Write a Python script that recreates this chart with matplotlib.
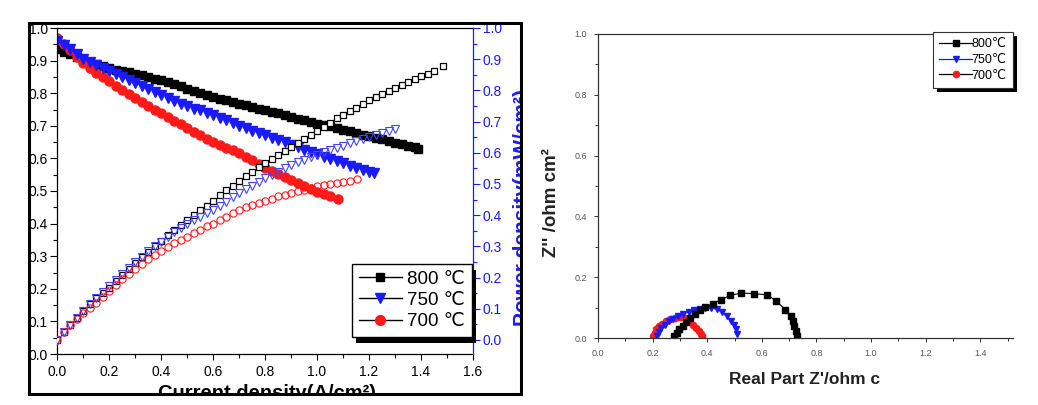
import matplotlib
matplotlib.use("Agg")
import matplotlib.pyplot as plt
from matplotlib.lines import Line2D
from matplotlib.patches import Rectangle
from matplotlib.ticker import MultipleLocator
from matplotlib.transforms import Bbox, TransformedBbox, IdentityTransform

plt.rcParams['font.family'] = ['Liberation Sans', 'DejaVu Sans']

W, H = 1038, 405

# ---- left panel: I-V / I-P curves ----
labels_T = ['800 ℃', '750 ℃', '700 ℃']

j_800_v = [0.000, 0.025, 0.050, 0.075, 0.100, 0.125, 0.150, 0.175, 0.200, 0.225, 0.250, 0.275, 0.300, 0.325,
           0.350, 0.375, 0.400, 0.425, 0.450, 0.475, 0.500, 0.525, 0.550, 0.575, 0.600, 0.625, 0.650, 0.675,
           0.700, 0.725, 0.750, 0.775, 0.800, 0.825, 0.850, 0.875, 0.900, 0.925, 0.950, 0.975, 1.000, 1.025,
           1.050, 1.075, 1.100, 1.125, 1.150, 1.175, 1.200, 1.225, 1.250, 1.275, 1.300, 1.325, 1.350, 1.375, 1.390]
v_800 = [0.935, 0.927, 0.919, 0.910, 0.902, 0.896, 0.890, 0.883, 0.877, 0.872, 0.867, 0.864, 0.860, 0.855,
         0.850, 0.845, 0.840, 0.834, 0.828, 0.821, 0.814, 0.807, 0.800, 0.794, 0.788, 0.783, 0.778, 0.773,
         0.768, 0.763, 0.758, 0.753, 0.748, 0.743, 0.738, 0.732, 0.727, 0.722, 0.717, 0.712, 0.707, 0.702,
         0.698, 0.693, 0.688, 0.683, 0.678, 0.673, 0.668, 0.663, 0.658, 0.653, 0.648, 0.643, 0.639, 0.634, 0.630]

j_750_v = [0.000, 0.025, 0.050, 0.075, 0.100, 0.125, 0.150, 0.175, 0.200, 0.225, 0.250, 0.275, 0.300, 0.325,
           0.350, 0.375, 0.400, 0.425, 0.450, 0.475, 0.500, 0.525, 0.550, 0.575, 0.600, 0.625, 0.650, 0.675,
           0.700, 0.725, 0.750, 0.775, 0.800, 0.825, 0.850, 0.875, 0.900, 0.925, 0.950, 0.975, 1.000, 1.025,
           1.050, 1.075, 1.100, 1.125, 1.150, 1.175, 1.200, 1.220]
v_750 = [0.960, 0.948, 0.935, 0.921, 0.906, 0.896, 0.886, 0.877, 0.868, 0.859, 0.850, 0.840, 0.830, 0.821,
         0.812, 0.803, 0.793, 0.784, 0.776, 0.768, 0.760, 0.753, 0.747, 0.740, 0.733, 0.725, 0.717, 0.709,
         0.700, 0.692, 0.685, 0.678, 0.671, 0.664, 0.657, 0.649, 0.641, 0.634, 0.626, 0.619, 0.612, 0.605,
         0.598, 0.592, 0.585, 0.578, 0.572, 0.565, 0.559, 0.554]

j_700_v = [0.000, 0.025, 0.050, 0.075, 0.100, 0.125, 0.150, 0.175, 0.200, 0.225, 0.250, 0.275, 0.300, 0.325,
           0.350, 0.375, 0.400, 0.425, 0.450, 0.475, 0.500, 0.525, 0.550, 0.575, 0.600, 0.625, 0.650, 0.675,
           0.700, 0.725, 0.750, 0.775, 0.800, 0.825, 0.850, 0.875, 0.900, 0.925, 0.950, 0.975, 1.000, 1.025,
           1.050, 1.080]
v_700 = [0.968, 0.952, 0.933, 0.912, 0.893, 0.878, 0.863, 0.850, 0.836, 0.823, 0.810, 0.797, 0.785, 0.773,
         0.761, 0.750, 0.738, 0.727, 0.715, 0.704, 0.692, 0.682, 0.672, 0.661, 0.651, 0.642, 0.633, 0.625,
         0.616, 0.605, 0.594, 0.582, 0.570, 0.561, 0.552, 0.543, 0.534, 0.525, 0.516, 0.507, 0.498, 0.492,
         0.486, 0.474]

j_800_p = [0.000, 0.025, 0.050, 0.075, 0.100, 0.125, 0.150, 0.175, 0.200, 0.225, 0.250, 0.275, 0.300, 0.325,
           0.350, 0.375, 0.400, 0.425, 0.450, 0.475, 0.500, 0.525, 0.550, 0.575, 0.600, 0.625, 0.650, 0.675,
           0.700, 0.725, 0.750, 0.775, 0.800, 0.825, 0.850, 0.875, 0.900, 0.925, 0.950, 0.975, 1.000, 1.025,
           1.050, 1.075, 1.100, 1.125, 1.150, 1.175, 1.200, 1.225, 1.250, 1.275, 1.300, 1.325, 1.350, 1.375,
           1.400, 1.425, 1.450, 1.485]
p_800 = [0.000, 0.024, 0.048, 0.071, 0.093, 0.114, 0.134, 0.151, 0.168, 0.188, 0.207, 0.227, 0.246, 0.265,
         0.283, 0.301, 0.318, 0.336, 0.354, 0.370, 0.385, 0.400, 0.415, 0.431, 0.447, 0.464, 0.480, 0.495,
         0.510, 0.525, 0.540, 0.553, 0.566, 0.579, 0.592, 0.605, 0.618, 0.632, 0.645, 0.658, 0.671, 0.684,
         0.697, 0.710, 0.722, 0.734, 0.745, 0.757, 0.768, 0.779, 0.789, 0.799, 0.808, 0.818, 0.827, 0.836,
         0.845, 0.854, 0.863, 0.879]

j_750_p = [0.000, 0.025, 0.050, 0.075, 0.100, 0.125, 0.150, 0.175, 0.200, 0.225, 0.250, 0.275, 0.300, 0.325,
           0.350, 0.375, 0.400, 0.425, 0.450, 0.475, 0.500, 0.525, 0.550, 0.575, 0.600, 0.625, 0.650, 0.675,
           0.700, 0.725, 0.750, 0.775, 0.800, 0.825, 0.850, 0.875, 0.900, 0.925, 0.950, 0.975, 1.000, 1.025,
           1.050, 1.075, 1.100, 1.125, 1.150, 1.175, 1.200, 1.225, 1.250, 1.275, 1.300]
p_750 = [0.000, 0.024, 0.048, 0.071, 0.093, 0.114, 0.134, 0.153, 0.172, 0.192, 0.212, 0.231, 0.250, 0.267,
         0.284, 0.300, 0.315, 0.330, 0.345, 0.359, 0.372, 0.384, 0.395, 0.407, 0.418, 0.431, 0.443, 0.457,
         0.470, 0.483, 0.495, 0.507, 0.518, 0.529, 0.540, 0.551, 0.561, 0.570, 0.578, 0.586, 0.594, 0.601,
         0.608, 0.616, 0.623, 0.630, 0.637, 0.644, 0.650, 0.657, 0.664, 0.671, 0.677]

j_700_p = [0.000, 0.025, 0.050, 0.075, 0.100, 0.125, 0.150, 0.175, 0.200, 0.225, 0.250, 0.275, 0.300, 0.325,
           0.350, 0.375, 0.400, 0.425, 0.450, 0.475, 0.500, 0.525, 0.550, 0.575, 0.600, 0.625, 0.650, 0.675,
           0.700, 0.725, 0.750, 0.775, 0.800, 0.825, 0.850, 0.875, 0.900, 0.925, 0.950, 0.975, 1.000, 1.025,
           1.050, 1.075, 1.100, 1.125, 1.155]
p_700 = [0.000, 0.024, 0.047, 0.066, 0.085, 0.103, 0.120, 0.139, 0.158, 0.176, 0.194, 0.211, 0.228, 0.244,
         0.260, 0.272, 0.284, 0.297, 0.310, 0.321, 0.331, 0.343, 0.354, 0.364, 0.373, 0.384, 0.394, 0.406,
         0.417, 0.425, 0.433, 0.440, 0.446, 0.453, 0.460, 0.466, 0.471, 0.477, 0.482, 0.488, 0.494, 0.497,
         0.500, 0.504, 0.507, 0.511, 0.516]

# ---- right panel: impedance spectra ----
labels_T2 = ['800℃', '750℃', '700℃']
zr_800 = [0.278, 0.288, 0.298, 0.310, 0.323, 0.338, 0.355, 0.372, 0.392, 0.420, 0.451, 0.484, 0.524, 0.570,
          0.619, 0.652, 0.686, 0.707, 0.714, 0.719, 0.724, 0.729]
zi_800 = [0.005, 0.017, 0.028, 0.040, 0.053, 0.066, 0.079, 0.091, 0.102, 0.113, 0.126, 0.140, 0.148, 0.146,
          0.142, 0.123, 0.093, 0.073, 0.055, 0.038, 0.022, 0.008]
zr_750 = [0.215, 0.222, 0.232, 0.245, 0.260, 0.276, 0.293, 0.312, 0.332, 0.352, 0.372, 0.393, 0.414, 0.436,
          0.455, 0.472, 0.486, 0.497, 0.505, 0.510]
zi_750 = [0.008, 0.020, 0.032, 0.044, 0.055, 0.064, 0.072, 0.079, 0.086, 0.092, 0.097, 0.100, 0.099, 0.094,
          0.084, 0.071, 0.057, 0.043, 0.028, 0.013]
zr_700 = [0.203, 0.207, 0.214, 0.223, 0.235, 0.249, 0.265, 0.282, 0.300, 0.318, 0.334, 0.348, 0.360, 0.370,
          0.377, 0.382]
zi_700 = [0.006, 0.017, 0.028, 0.038, 0.047, 0.055, 0.062, 0.067, 0.069, 0.066, 0.056, 0.044, 0.032, 0.022,
          0.014, 0.007]

BLUE = '#1a1aff'
RED = '#ff1a1a'


def fx(px):
    return px / W


def fy(py):
    return 1 - py / H


fig = plt.figure(figsize=(W / 100, H / 100), dpi=100)
frame_clip = TransformedBbox(Bbox.from_extents(fx(30), fy(393), fx(520), fy(24)), fig.transFigure)

# ================= left panel =================
ax = fig.add_axes([fx(57), fy(354), fx(473) - fx(57), fy(28) - fy(354)])
ax2 = ax.twinx()

ax.plot(j_800_v, v_800, ls='none', marker='s', ms=6, color='black')
ax.plot(j_700_v, v_700, ls='none', marker='o', ms=6.5, color=RED)
ax.plot(j_750_v, v_750, ls='none', marker='v', ms=7, color=BLUE)

ax2.plot(j_800_p, p_800, ls='none', marker='s', ms=4.3, mfc='white', mec='black', mew=0.9)
ax2.plot(j_750_p, p_750, ls='none', marker='v', ms=5.8, mfc='none', mec='#4444ff', mew=0.8)
ax2.plot(j_700_p, p_700, ls='none', marker='o', ms=5.2, mfc='none', mec=RED, mew=0.8)

ax.set_xlim(0, 1.6)
ax.set_ylim(0, 1.0)
ax2.set_ylim(-0.045, 1.0)
ax.xaxis.set_major_locator(MultipleLocator(0.2))
ax.xaxis.set_minor_locator(MultipleLocator(0.1))
ax.yaxis.set_major_locator(MultipleLocator(0.1))
ax.yaxis.set_minor_locator(MultipleLocator(0.05))
ax2.yaxis.set_major_locator(MultipleLocator(0.1))
ax2.yaxis.set_minor_locator(MultipleLocator(0.05))
ax.xaxis.set_major_formatter(lambda v, p: f'{v:.1f}')
ax.yaxis.set_major_formatter(lambda v, p: f'{v:.1f}')
ax2.yaxis.set_major_formatter(lambda v, p: f'{v:.1f}')

ax.tick_params(axis='both', which='both', direction='out', labelsize=10, width=0.8)
ax.tick_params(axis='y', which='major', length=5, pad=1.5)
ax.tick_params(axis='y', which='minor', length=3)
ax.tick_params(axis='x', which='major', length=4, pad=4)
ax.tick_params(axis='x', which='minor', length=3)
ax2.tick_params(axis='y', which='both', direction='out', colors=BLUE, labelsize=10, width=0.8)
ax2.tick_params(axis='y', which='major', length=5, pad=2)
ax2.tick_params(axis='y', which='minor', length=3)

ax.spines['right'].set_visible(False)
for s in ['left', 'top', 'bottom']:
    ax2.spines[s].set_visible(False)
ax2.spines['right'].set_color(BLUE)
for s in ax.spines.values():
    s.set_linewidth(0.9)
ax2.spines['right'].set_linewidth(0.9)

handles = [Line2D([], [], color='black', lw=1, marker='s', ms=6, mfc='black', mec='black'),
           Line2D([], [], color='black', lw=1, marker='v', ms=7, mfc=BLUE, mec=BLUE),
           Line2D([], [], color='black', lw=1, marker='o', ms=7, mfc=RED, mec=RED)]
leg1 = ax2.legend(handles, labels_T, loc='upper left', bbox_to_anchor=(fx(352), fy(264)),
                  bbox_transform=fig.transFigure, borderaxespad=0, fontsize=13.5, handlelength=2.3,
                  handletextpad=0.3, labelspacing=0.22, borderpad=0.35, fancybox=False,
                  edgecolor='black', framealpha=1)
leg1.get_frame().set_linewidth(1.0)

xl = fig.text(fx(267), fy(384), 'Current density(A/cm²)', ha='center', va='top',
              fontsize=14.5, fontweight='bold')
xl.set_clip_box(frame_clip)
xl.set_clip_on(True)
yl = fig.text(fx(513), fy(207), 'Power density(mW/cm²)', ha='left', va='center', rotation=90,
              fontsize=15, fontweight='bold', color=BLUE)
yl.set_clip_box(frame_clip)
yl.set_clip_on(True)

fig.add_artist(Rectangle((fx(29), fy(394)), fx(521) - fx(29), fy(23) - fy(394),
                         transform=fig.transFigure, fill=False, lw=2.2, ec='black', zorder=10))

# ================= right panel =================
GRAY = '#333333'
ax3 = fig.add_axes([fx(598), fy(338), fx(1013) - fx(598), fy(34) - fy(338)])
ax3.plot(zr_700, zi_700, color=RED, lw=0.8, marker='o', ms=4.5, mfc=RED, mec=RED)
ax3.plot(zr_750, zi_750, color=BLUE, lw=0.8, marker='v', ms=5, mfc=BLUE, mec=BLUE)
ax3.plot(zr_800, zi_800, color='black', lw=0.8, marker='s', ms=4, mfc='black', mec='black')
ax3.set_xlim(0, 1.52)
ax3.set_ylim(0, 1.0)
ax3.xaxis.set_major_locator(MultipleLocator(0.2))
ax3.xaxis.set_minor_locator(MultipleLocator(0.1))
ax3.yaxis.set_major_locator(MultipleLocator(0.2))
ax3.yaxis.set_minor_locator(MultipleLocator(0.1))
ax3.xaxis.set_major_formatter(lambda v, p: f'{v:.1f}')
ax3.yaxis.set_major_formatter(lambda v, p: f'{v:.1f}')
ax3.tick_params(axis='both', which='both', direction='out', labelsize=6.5, colors=GRAY,
                labelcolor='#555555', width=0.7)
ax3.tick_params(axis='both', which='major', length=3, pad=5)
ax3.tick_params(axis='both', which='minor', length=2)
ax3.spines['right'].set_visible(False)
for s in ['left', 'top', 'bottom']:
    ax3.spines[s].set_color(GRAY)
    ax3.spines[s].set_linewidth(0.9)

fig.text(fx(805), fy(380), "Real Part Z'/ohm c", ha='center', va='center', fontsize=12.5,
         fontweight='bold', color='#222222')
fig.text(fx(551), fy(203), "Z'' /ohm cm²", ha='center', va='center', rotation=90, fontsize=13.5,
         fontweight='bold', color='#222222')

handles2 = [Line2D([], [], color='black', lw=0.9, marker='s', ms=4, mfc='black', mec='black'),
            Line2D([], [], color=BLUE, lw=0.9, marker='v', ms=5, mfc=BLUE, mec=BLUE),
            Line2D([], [], color='black', lw=0.9, marker='o', ms=4.5, mfc=RED, mec=RED)]
leg2 = ax3.legend(handles2, labels_T2, loc='upper right', bbox_to_anchor=(fx(1013), fy(32)),
                  bbox_transform=fig.transFigure, borderaxespad=0, fontsize=9, handlelength=2.6,
                  handletextpad=0.0, labelspacing=0.3, borderpad=0.5, fancybox=False,
                  edgecolor=GRAY, framealpha=1)
leg2.get_frame().set_linewidth(0.8)

# black drop shadows behind the legend boxes
fig.canvas.draw()
renderer = fig.canvas.get_renderer()
for a, lg, (ox, oy) in [(ax2, leg1, (4, 6)), (ax3, leg2, (4, 4))]:
    bb = lg.get_frame().get_window_extent(renderer)
    sh = Rectangle((bb.x0 + ox, bb.y0 - oy), bb.width, bb.height, transform=IdentityTransform(),
                   fc='black', ec='none', zorder=4.9, clip_on=False)
    a.add_artist(sh)

fig.savefig('out.png', dpi=100)
